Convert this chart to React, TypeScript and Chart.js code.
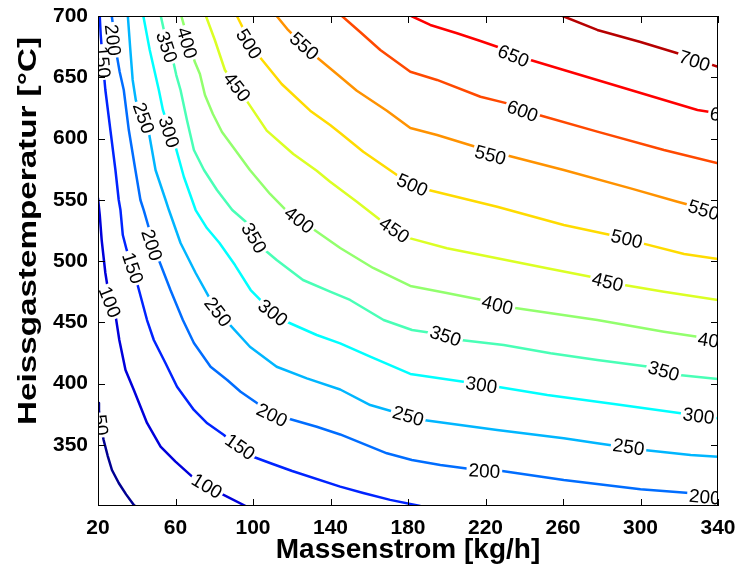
import React, { useEffect, useRef } from "react";
import { Chart, registerables } from "chart.js";

Chart.register(...registerables);

// ---------- data ----------
const LEVELS = [50, 100, 150, 200, 250, 300, 350, 400, 450, 500, 550, 600, 650, 700];

const X_TICKS = [20, 60, 100, 140, 180, 220, 260, 300, 340];
const Y_TICKS = [350, 400, 450, 500, 550, 600, 650, 700];

const X_TITLE = "Massenstrom [kg/h]";
const Y_TITLE = "Heissgastemperatur [°C]";

// contour lines: [Massenstrom kg/h, Heissgastemperatur °C]
const c50: [number, number][] = [[20, 384], [20.5, 378], [21.4, 366], [22.9, 353.9], [25, 341], [27.2, 329.4], [30.7, 318.8], [34.5, 309.5], [38.5, 300.8], [39.2, 300]];
const c100: [number, number][] = [[20, 551.4], [20.9, 537.6], [21.9, 517.1], [23.8, 490.2], [26, 468.2], [29, 456], [31, 435.5], [34.2, 411], [38.5, 394.7], [45.3, 367.8], [52.3, 348.4], [60, 336.2], [68.6, 324], [81.5, 311.7], [96.2, 300]];
const c150: [number, number][] = [[20.9, 700], [21.4, 684.5], [22.4, 664.1], [23.8, 639.6], [26.4, 606.9], [29, 574.3], [30.7, 549.8], [31.6, 541.6], [32.8, 521.2], [34.8, 509], [37.4, 495.1], [40.2, 481.8], [45.3, 451.8], [48.8, 435.5], [54.8, 416.7], [60.8, 397.4], [69.5, 378.4], [76.4, 367.5], [85, 358], [92.2, 348.2], [99, 340.8], [109.1, 334.9], [120.2, 328.6], [145, 315.8], [156.9, 310.6], [170.8, 305], [186.3, 300]];
const c200: [number, number][] = [[27.1, 700], [28.1, 688.6], [29.4, 670.6], [31.2, 654.3], [33.3, 639.6], [35.9, 606.9], [39.3, 574.3], [41.9, 549.8], [43.6, 541.6], [47.3, 521.2], [51.4, 500.8], [57.4, 476.3], [63.8, 451.8], [69.5, 433], [78.1, 413.7], [86.7, 402.9], [93.6, 393.3], [102.2, 383.8], [109.8, 377.6], [117.6, 371.6], [132.9, 364.7], [145, 358.4], [169.1, 343], [182, 337.6], [196.7, 333.5], [212.2, 330.2], [227.7, 328.8], [260.4, 321.2], [300, 313.6], [326.8, 310.4], [340, 308.5]];
const c250: [number, number][] = [[35.4, 700], [36.7, 672.2], [37.9, 647.8], [39.5, 631.4], [43.1, 615.1], [46.2, 605.3], [49.7, 574.3], [54.9, 549.8], [56.6, 541.6], [62.6, 514.7], [70.4, 490.2], [78.1, 468.2], [88.1, 447.8], [98.4, 430], [112.2, 413.7], [127.8, 404.2], [145, 395.1], [160.5, 382.4], [180.1, 373.5], [187.9, 370.2], [226, 362], [260.4, 355.3], [277.7, 351.2], [301.8, 345.7], [325.9, 341.6], [340, 340.2]];
const c300: [number, number][] = [[43.4, 700], [46.7, 672.2], [51.4, 639.6], [53.5, 623.3], [57.1, 605.3], [60, 593.3], [64.3, 568.8], [70.4, 541.6], [76.2, 526.9], [82.7, 514.7], [90.7, 496.7], [98.8, 476.3], [106.3, 464.1], [117.4, 450.4], [132.9, 439.6], [145, 432.8], [160.5, 421.9], [181.2, 407.8], [208.6, 401.5], [226, 397.4], [251.9, 390.6], [286.3, 383.3], [320.8, 375.7], [340, 371.6]];
const c350: [number, number][] = [[52.4, 700], [54, 688.6], [57.1, 673.9], [58.9, 662.4], [60.4, 651.8], [62.6, 639.6], [65.9, 615.1], [69.5, 590.6], [74.7, 574.3], [81.4, 558], [89.3, 541.6], [97, 531], [101.5, 518.8], [106.7, 508.2], [112.2, 500.8], [125.8, 484.5], [139.8, 475], [150.1, 468.2], [167.4, 451.8], [182.1, 443.7], [199.3, 439.6], [207.1, 435.5], [229.4, 431.4], [253.6, 424.7], [277.7, 419.2], [304.4, 413.7], [312, 410.2], [319.8, 406.9], [340, 403.7]];
const c400: [number, number][] = [[63, 700], [64.3, 692.7], [67.4, 676.3], [70, 662.4], [72.6, 652.7], [75.2, 635.5], [79.3, 620], [84, 605.3], [89.7, 593.1], [98.4, 574.3], [108.8, 554.7], [116.5, 542.4], [123.8, 533.5], [131, 526.1], [145, 510.6], [162, 494.3], [181.2, 479.6], [199.3, 474], [218.2, 468.2], [226.2, 465.1], [234.4, 461.8], [277.7, 451.8], [312.1, 442.3], [331.1, 437.7], [340, 435.5]];
const c450: [number, number][] = [[75.7, 700], [80.3, 680.4], [85.5, 655.9], [91.2, 642], [96.7, 630.9], [107.1, 606.4], [120.8, 587.3], [132.9, 573.7], [139.8, 564.7], [153.6, 548.4], [165.7, 533.5], [173.4, 525.3], [181.2, 518.5], [200.1, 510.4], [226, 502.2], [251.8, 494], [274.2, 487.2], [283, 483.7], [291.5, 480.4], [312.1, 474.9], [340, 468.2]];
const c500: [number, number][] = [[91.7, 700], [97.9, 680.4], [103.6, 666.3], [114.8, 644.5], [129.5, 622.7], [139.8, 611], [145, 604.5], [156.9, 589.2], [174.3, 570.2], [182.2, 563.7], [190.6, 558], [226, 544.3], [260.4, 529.4], [284.6, 521.2], [292.9, 518], [301, 514.4], [322.5, 505.7], [340, 501.6]];
const c550: [number, number][] = [[112.2, 700], [118.1, 688.6], [125.8, 676.3], [132.9, 666.3], [143.3, 652.7], [153.6, 639], [169.1, 622.7], [181.2, 608.6], [195, 602.9], [214.8, 593.3], [222.5, 589.8], [230.3, 586.5], [260.4, 574.3], [294.9, 559.3], [319.1, 548.4], [331.1, 543.3], [340, 539]];
const c600: [number, number][] = [[145.9, 700], [155.3, 686.9], [165.7, 672.2], [181.2, 654.5], [195, 647.8], [217.4, 634.1], [231.2, 628.7], [247.5, 619.2], [277.7, 605.6], [312.1, 590.6], [340, 579.8]];
const c650: [number, number][] = [[181.7, 700], [191.5, 692.7], [205.3, 685.9], [217.4, 679.6], [226, 674.9], [234.4, 669.8], [243.2, 664.1], [260.4, 655.9], [294.9, 639.6], [329.4, 623.3], [340, 620.6]];
const c700: [number, number][] = [[259.8, 700], [277.7, 688.6], [300, 678.8], [319.1, 669.6], [340, 658.6]];

const CONTOURS: [number, number][][] = [c50, c100, c150, c200, c250, c300, c350, c400, c450, c500, c550, c600, c650, c700];

// contour labels: [level, x, y]
const LABELS: [number, number, number][] = [
  [50, 21.4, 366.1],
  [100, 26.05, 466.5], [100, 76.2, 316.3],
  [150, 22.4, 662.4], [150, 37.9, 494.3], [150, 93.3, 348.2],
  [200, 27.6, 680.4], [200, 47.8, 513.1], [200, 109.8, 374.3], [200, 219.4, 328.6], [200, 333.2, 307.3],
  [250, 43.6, 616.7], [250, 81.9, 458.4], [250, 180.1, 373.5], [250, 293.9, 348.2],
  [300, 56.6, 605.3], [300, 110.3, 457.6], [300, 217.9, 398.8], [300, 330, 373.5],
  [350, 55.5, 674.7], [350, 100.5, 518.8], [350, 199.3, 438.8], [350, 312, 410.2],
  [400, 65.9, 678], [400, 123.8, 533.5], [400, 226.2, 464.1], [400, 337.8, 434.7],
  [450, 91.7, 642], [450, 172.9, 525.3], [450, 283, 482.9],
  [500, 97.9, 677.1], [500, 182.2, 562], [500, 292.9, 518],
  [550, 126.4, 675.5], [550, 222.5, 586.5], [550, 332.6, 541.6],
  [600, 239.1, 622.4],
  [650, 234.4, 667.3], [650, 344, 618.4],
  [700, 327.9, 663.3],
];

// ---------- helpers ----------
const FONT = '"Liberation Sans", Arial, Helvetica, sans-serif';

function jet(v: number): string {
  const t = (v - 37.5) / 700;
  const c = (u: number) => Math.round(255 * Math.max(0, Math.min(1, u)));
  const r = c(1.5 - Math.abs(4 * t - 3));
  const g = c(1.5 - Math.abs(4 * t - 2));
  const b = c(1.5 - Math.abs(4 * t - 1));
  return `rgb(${r},${g},${b})`;
}

const frameAndLabels = {
  id: "frameAndLabels",
  afterDatasetsDraw(chart: any) {
    const { ctx, chartArea: a, scales } = chart;
    const xs = scales.x;
    const ys = scales.y;

    // contour labels
    ctx.save();
    ctx.beginPath();
    ctx.rect(a.left, a.top, a.right - a.left, a.bottom - a.top);
    ctx.clip();
    ctx.font = `19px ${FONT}`;
    for (const [lvl, lx, ly] of LABELS) {
      const idx = LEVELS.indexOf(lvl);
      const pts = CONTOURS[idx].map(([x, y]) => [xs.getPixelForValue(x), ys.getPixelForValue(y)]);
      const px = xs.getPixelForValue(lx);
      const py = ys.getPixelForValue(ly);
      let best = Infinity;
      let ang = 0;
      for (let i = 0; i < pts.length - 1; i++) {
        const [x1, y1] = pts[i];
        const [x2, y2] = pts[i + 1];
        const dx = x2 - x1, dy = y2 - y1;
        const L = dx * dx + dy * dy || 1;
        let t = ((px - x1) * dx + (py - y1) * dy) / L;
        t = Math.max(0, Math.min(1, t));
        const qx = x1 + t * dx - px, qy = y1 + t * dy - py;
        const d = qx * qx + qy * qy;
        if (d < best) { best = d; ang = Math.atan2(dy, dx); }
      }
      if (ang > Math.PI / 2) ang -= Math.PI;
      if (ang < -Math.PI / 2) ang += Math.PI;
      const txt = String(lvl);
      const w = ctx.measureText(txt).width;
      ctx.save();
      ctx.translate(px, py);
      ctx.rotate(ang);
      ctx.fillStyle = "#fff";
      ctx.fillRect(-w / 2 - 2, -6, w + 4, 12);
      ctx.fillStyle = "#000";
      ctx.textAlign = "center";
      ctx.textBaseline = "middle";
      ctx.fillText(txt, 0, 1);
      ctx.restore();
    }
    ctx.restore();

    // frame and inward ticks
    ctx.save();
    ctx.strokeStyle = "#000";
    ctx.lineWidth = 1;
    ctx.strokeRect(a.left + 0.5, a.top + 0.5, a.right - a.left - 1, a.bottom - a.top - 1);
    const tl = 7;
    ctx.beginPath();
    for (const v of X_TICKS) {
      const x = Math.round(xs.getPixelForValue(v)) + 0.5;
      ctx.moveTo(x, a.bottom);
      ctx.lineTo(x, a.bottom - tl);
      ctx.moveTo(x, a.top);
      ctx.lineTo(x, a.top + tl);
    }
    for (const v of Y_TICKS) {
      const y = Math.round(ys.getPixelForValue(v)) + 0.5;
      ctx.moveTo(a.left, y);
      ctx.lineTo(a.left + tl, y);
      ctx.moveTo(a.right, y);
      ctx.lineTo(a.right - tl, y);
    }
    ctx.stroke();

    // axis titles
    ctx.fillStyle = "#000";
    ctx.font = `bold 28px ${FONT}`;
    ctx.textAlign = "center";
    ctx.textBaseline = "alphabetic";
    ctx.fillText(X_TITLE, (a.left + a.right) / 2, 558);

    ctx.save();
    ctx.font = `bold 26px ${FONT}`;
    const tw = ctx.measureText(Y_TITLE).width;
    ctx.translate(36, 231);
    ctx.rotate(-Math.PI / 2);
    ctx.scale(388 / tw, 1);
    ctx.fillText(Y_TITLE, 0, 0);
    ctx.restore();
    ctx.restore();
  },
};

export default function App() {
  const ref = useRef<HTMLCanvasElement | null>(null);

  useEffect(() => {
    if (!ref.current) return;
    const datasets = CONTOURS.map((pts, i) => ({
      label: String(LEVELS[i]),
      data: pts.map(([x, y]) => ({ x, y })),
      borderColor: jet(LEVELS[i]),
      backgroundColor: jet(LEVELS[i]),
      borderWidth: 2.5,
      pointRadius: 0,
      tension: 0,
      fill: false,
      borderJoinStyle: "round" as const,
      borderCapStyle: "round" as const,
    }));
    const chart = new Chart(ref.current, {
      type: "line",
      data: { datasets },
      options: {
        animation: false,
        responsive: false,
        maintainAspectRatio: false,
        parsing: false,
        layout: { padding: { top: 16, right: 24, left: 0, bottom: 0 } },
        plugins: { legend: { display: false }, tooltip: { enabled: false } },
        scales: {
          x: {
            type: "linear",
            min: 20,
            max: 340,
            afterBuildTicks: (s: any) => { s.ticks = X_TICKS.map((v) => ({ value: v })); },
            afterFit: (s: any) => { s.height = 65; },
            grid: { display: false },
            border: { display: false },
            ticks: {
              autoSkip: false,
              maxRotation: 0,
              padding: 2,
              color: "#000",
              font: { family: FONT, size: 21, weight: "bold" },
            },
          },
          y: {
            type: "linear",
            min: 300,
            max: 700,
            afterBuildTicks: (s: any) => { s.ticks = Y_TICKS.map((v) => ({ value: v })); },
            afterFit: (s: any) => { s.width = 98; },
            grid: { display: false },
            border: { display: false },
            ticks: {
              autoSkip: false,
              padding: 2,
              color: "#000",
              font: { family: FONT, size: 21, weight: "bold" },
            },
          },
        },
      },
      plugins: [frameAndLabels],
    } as any);
    return () => chart.destroy();
  }, []);

  return (
    <div style={{ position: "fixed", left: 0, top: 0, width: 742, height: 571, background: "#fff" }}>
      <canvas ref={ref} width={742} height={571} style={{ width: 742, height: 571, display: "block" }} />
    </div>
  );
}
